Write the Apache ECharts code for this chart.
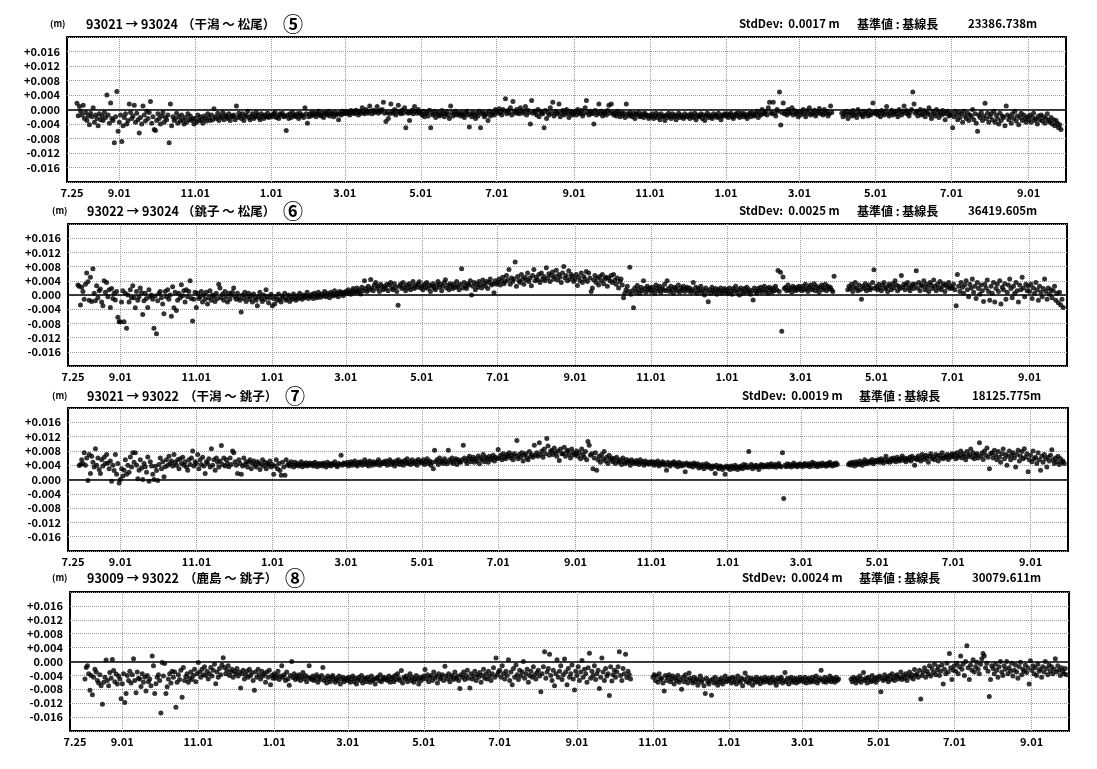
<!DOCTYPE html>
<html><head><meta charset="utf-8">
<script src="https://cdn.jsdelivr.net/npm/echarts@6/dist/echarts.min.js"></script>
<style>html,body{margin:0;padding:0;background:#fff}#c{width:1097px;height:769px}</style>
</head><body><div id="c"></div>
<script>
// Day offsets (from 7.25 of the first year) at the start of each data chunk
const MONTH_START = [0,7,38,68,99,129,160,191,219,250,280,311,341,372,403,433,464,494,525,556,584,615,645,676,706,737,768];
const TICK_DAYS = [0,38,99,160,219,280,341,403,464,525,584,645,706,768];
const TICK_LABELS = ['7.25','9.01','11.01','1.01','3.01','5.01','7.01','9.01','11.01','1.01','3.01','5.01','7.01','9.01'];
const X_MIN = -4, X_MAX = 798;
const Y_MIN = -0.020, Y_MAX = 0.020, Y_STEP = 0.004;

const PAIRS = ['93021 → 93024','93022 → 93024','93021 → 93022','93009 → 93022'];
const STATIONS = ['（干潟 ～ 松尾）','（銚子 ～ 松尾）','（干潟 ～ 銚子）','（鹿島 ～ 銚子）'];
const NUMBERS = ['⑤','⑥','⑦','⑧'];
const STDDEV = ['0.0017','0.0025','0.0019','0.0024'];
const BASELINE = ['23386.738','36419.605','18125.775','30079.611'];

// daily residuals in 0.1 mm, one chunk per month
const P5 = [
[null,null,null,null,17,-17,8],
[-5,-15,12,-25,-8,-30,-18,-42,-10,-20,5,-35,-15,-25,-45,-12,-28,-18,-30,-8,-22,40,-15,-38,18,-25,-30,-92,-20,50,-60],
[-35,-15,-88,-45,-22,-12,-40,-30,15,-8,-25,-18,12,-35,-10,-28,-65,-22,-40,10,-15,-32,-5,-25,-8,22,-38,-20,-55,-58],
[-30,-12,-25,-40,-18,-8,-35,-22,-28,-15,-92,15,-45,-20,-30,-25,-10,-38,-20,-32,-15,-28,-40,-22,-35,-12,-28,-18,-30,-25,-40],
[-25,-35,-15,-30,-20,-28,-38,-18,-25,-32,-12,-22,-30,-15,-28,2,-20,-25,-10,-30,-18,-22,-8,-28,-15,-20,-25,-12,-30,-18],
[-20,-15,-28,10,-22,-10,-18,-25,-12,-30,-20,-15,-5,-22,-28,-18,-12,-25,-20,-8,-15,-22,-28,-12,-18,-25,-15,-20,-10,-22,-18],
[-15,-20,-12,-8,-22,-18,-25,-12,-15,-10,-20,-18,-58,-15,-25,-12,-22,-8,-18,-15,-20,-12,-25,-10,-18,-15,-22,5,-12,-38,-20],
[-12,-18,-8,-15,-10,-20,-12,-5,-15,-18,-10,-22,-8,-12,-15,-5,-18,-10,-12,-20,-8,-15,-12,-28,-10,-15,-5,-12],
[-10,-5,-12,-8,-15,-3,-10,-6,-12,-2,-8,-15,-5,-10,5,-8,-12,0,-6,-10,10,-4,-12,-2,-8,-5,8,-10,-3,-6,0],
[20,-10,-33,-8,-25,-12,15,-6,-10,0,-15,-5,12,-8,-12,-2,-10,5,-50,-6,-10,-30,-8,-2,-12,8,-5,-10,0,-8],
[-10,-15,-5,-20,-12,-8,-18,-2,-50,-10,-15,-5,-22,-12,-8,-18,-15,-3,-10,-20,-12,-6,-15,-25,10,-8,-18,-12,-5,-15,-10],
[-12,-18,-8,-15,-22,-10,-5,-15,-48,-12,-20,-8,-15,-25,-10,-18,-5,-50,-12,-8,-20,-15,-10,-30,-5,-18,-12,-8,-15,0],
[-5,-10,2,-8,-15,0,-5,30,-12,-3,-8,5,-15,22,-5,-10,0,-8,-12,5,-3,-10,-5,8,-15,-2,-8,-40,25,-10,-5],
[-8,-15,0,-20,-5,-10,-12,-50,-3,-25,-8,-15,5,-10,20,-18,-5,-12,-8,15,-20,-10,-3,-15,-8,0,-12,-22,-5,-10,-15],
[-10,-5,-15,0,-8,-12,-3,-18,-10,5,25,-8,-15,-5,-12,-10,-40,-3,-15,-8,15,-12,-5,-18,-10,-8,-15,-3,12,-10],
[15,-8,-15,-10,-18,-5,-12,-20,-8,-15,-10,-22,15,-12,-18,-8,-15,-20,-10,-25,-12,-15,-8,-20,-18,-12,-22,-10,-15,-18,-25],
[-15,-20,-12,-25,-18,-10,-22,-15,-28,-12,-20,-18,-30,-15,-22,-10,-18,-25,-12,-20,-15,-28,-18,-10,-22,-15,-20,-25,-12,-18],
[-20,-15,-25,-12,-18,-22,-10,-28,-15,-20,-18,-12,-25,-15,-30,-18,-10,-22,-15,-20,-25,-12,-18,-15,-22,-10,-20,-28,-15,-18,-12],
[-18,-12,-22,-15,-10,-20,-25,-15,-12,-18,-8,-22,-15,-10,-20,-12,-18,-25,-15,-10,-20,-8,-15,-18,-12,-5,-22,-10,-15,0,-12],
[-10,-5,-15,5,20,-8,-12,20,-10,-18,0,-5,48,-43,-8,18,-12,-5,-15,0,-10,-8,5,-15,-3,-12,-8,-20],
[-5,-15,-8,0,-12,-20,-3,-10,5,-15,-8,-12,-2,-18,-10,-5,3,-12,-8,-15,0,-10,-5,-18,-12,10,-8,null,null,null,null],
[null,null,null,-10,-20,-8,-15,-5,-25,-12,-8,-18,-3,-15,-10,-22,0,-12,-8,-15,-20,-5,-12,-10,-18,-3,-15,-10,18,-8],
[-12,-5,-15,-8,-20,-3,-10,-15,-5,8,-12,-18,-8,-2,-15,-10,-5,-12,-20,0,-8,-15,-5,10,-10,-3,-12,-18,-8,0,48],
[15,-10,-5,-18,-8,0,-15,-12,-3,-20,-8,-10,5,-15,-25,-5,-12,-18,0,-10,-22,-8,-15,-3,-12,-28,-10,-5,-18,-15],
[-10,-50,-20,-5,-15,-28,-8,-22,-12,-35,-5,-18,-25,-10,-30,-15,-20,0,-28,-12,-38,-60,-15,-22,-8,-30,-18,17,-25,-10,-35],
[-20,-12,-28,-5,-35,-15,-25,-40,-10,-30,-18,-22,-45,10,-15,-28,-20,-38,-12,-25,-5,-32,-18,-42,-22,-10,-30,-15,-25,-35,-20],
[-28,-15,-35,-22,-10,-30,-25,-40,-18,-28,-15,-32,-20,-38,-25,-12,-30,-35,-22,-40,-28,-45,-30,-38,-50,-42,-55]
];

const P6 = [
[null,null,null,null,28,25,-28],
[22,10,-12,30,62,37,-15,50,-18,74,5,-16,26,-8,12,17,-20,-30,40,8,35,-5,15,-35,18,-10,5,-14,10,-63,-75],
[-75,-20,12,-75,5,-94,0,-20,15,-8,26,-8,-36,10,-15,-5,20,7,-55,-16,5,-10,-35,15,-5,0,-12,-94,-3,-109],
[-16,4,10,-8,-25,-53,10,-5,15,-12,0,-60,23,-36,8,-44,-15,5,-8,29,-2,12,-20,15,-5,10,40,-10,-73,-12,8],
[-35,5,-10,-5,10,-20,0,-12,8,-25,-8,12,-15,0,-5,-18,5,-10,30,20,-8,2,-15,10,-5,-20,5,-12,0,8],
[20,-5,-12,5,-8,-15,-48,0,-10,8,-18,-5,5,-12,-2,-20,3,-8,-15,-30,-5,8,-10,-18,0,-12,15,-5,-22,-8,2],
[-30,-10,-25,-5,-15,3,-12,-20,-3,-8,5,-15,-10,0,-18,-5,-12,3,-8,-15,-2,-10,5,-6,-12,0,-8,-3,8,-10,-2],
[-5,2,-10,5,-3,-8,8,0,-6,3,-2,10,-5,5,0,-8,8,2,-3,12,0,5,-5,10,3,8,-2,6],
[10,5,15,8,2,12,18,6,10,20,8,14,3,22,12,40,18,10,25,15,44,20,12,28,35,18,25,10,30,22,15],
[25,18,30,12,28,35,20,15,32,22,10,-29,25,30,18,35,22,12,28,20,32,15,25,38,18,28,22,30,37,20],
[25,15,30,22,35,18,28,10,25,32,20,15,28,38,22,30,12,25,35,43,20,28,15,32,25,18,30,22,38,25,15],
[30,74,20,35,25,18,32,28,40,0,25,35,15,30,22,38,28,20,42,32,25,38,18,35,45,28,32,6,40,30],
[35,45,28,40,50,32,38,55,42,72,30,48,38,45,93,25,52,40,35,58,45,30,50,42,62,38,48,26,55,72,40],
[50,42,58,35,62,45,52,40,77,48,60,38,55,65,45,52,70,42,58,50,35,62,80,48,55,40,68,45,58,52,38],
[45,58,27,50,40,62,35,52,45,66,38,62,48,10,20,42,55,35,48,28,52,40,58,32,45,50,25,48,40,55],
[35,58,42,30,48,20,38,45,28,-8,5,15,25,10,78,2,12,-36,20,8,27,15,5,22,12,40,18,8,25,15,20],
[10,22,15,5,28,18,12,25,8,20,15,30,12,40,18,10,25,15,5,22,18,12,28,8,20,15,25,10,18,22],
[12,20,8,15,35,10,22,5,18,12,25,8,15,0,20,10,-19,15,5,22,12,8,18,2,15,10,20,5,12,18,8],
[15,5,20,10,2,18,12,25,8,15,0,20,12,5,18,10,22,8,15,2,12,-14,20,10,5,18,12,22,8,15,25],
[10,18,5,22,15,8,20,12,25,15,69,10,64,-102,51,18,22,12,28,15,20,8,25,18,12,22,15,25],
[20,12,25,15,30,18,10,22,28,15,20,32,12,25,18,8,22,28,15,20,30,12,25,18,22,15,10,53,null,null,null],
[null,null,null,null,null,null,null,15,25,18,30,10,22,35,20,12,28,15,-12,25,18,32,12,22,28,15,20,35,71,18],
[25,15,30,20,12,28,35,18,22,10,30,25,15,32,20,40,28,12,25,18,55,22,30,15,28,35,20,12,25,30,18],
[30,68,20,35,12,28,25,40,15,30,22,10,35,28,18,42,25,12,30,20,38,15,25,32,10,28,22,35,18,25],
[20,30,15,-30,58,25,10,35,22,5,28,40,15,-5,30,20,45,8,25,-10,35,18,2,28,12,-18,30,20,42,10,-15],
[25,5,35,-20,18,30,10,40,-25,22,15,32,-12,8,28,45,18,-8,25,5,35,12,-20,28,15,50,20,-5,30,12,25],
[10,30,-10,20,5,35,15,-15,25,8,-5,18,45,10,-12,20,2,15,-8,12,25,-15,5,-22,8,-28,-12,-35]
];

const P7 = [
[null,null,null,null,null,39,42],
[55,45,75,40,60,-3,70,17,65,48,35,86,40,60,28,17,55,38,62,45,70,46,30,52,-5,40,25,70,15,45,-10],
[0,30,10,26,55,15,40,20,63,35,75,48,75,40,2,26,55,32,0,45,36,20,63,-5,50,38,15,0,37,25],
[-3,42,60,30,50,8,36,55,40,65,45,52,38,70,48,40,55,30,58,45,62,40,50,35,26,55,42,60,80,38,50],
[45,70,30,55,42,62,38,17,50,45,58,35,86,40,55,26,60,48,35,52,95,42,60,38,55,45,36,60,42,80],
[75,50,40,17,55,45,15,38,60,42,50,35,48,55,30,45,52,40,35,50,45,28,42,55,38,48,30,45,40,52,35],
[42,15,38,55,30,45,25,12,48,35,12,55,40,45,38,50,42,35,48,40,45,38,42,50,36,44,40,47,38,43,46],
[40,45,38,48,42,36,45,40,44,38,46,42,35,48,40,44,38,45,42,50,40,36,45,42,68,40,46,44],
[42,48,38,45,50,40,46,52,42,38,48,44,50,40,46,55,42,48,38,52,45,40,50,46,42,48,55,40,47,44,50],
[45,52,40,48,55,42,50,46,38,52,45,55,42,48,50,40,53,46,58,44,50,42,55,48,45,52,40,56,48,50],
[46,55,42,50,58,45,52,40,48,30,82,50,55,42,60,48,52,45,58,50,44,82,55,48,60,45,52,58,42,55,50],
[48,55,96,60,52,45,58,65,50,55,62,48,58,52,66,44,60,55,70,50,62,58,48,65,55,60,68,52,62,58],
[84,60,68,55,72,62,58,70,65,75,60,68,55,72,65,109,58,70,62,75,52,68,72,60,55,78,65,70,62,96,68],
[75,65,103,70,80,62,85,72,115,94,68,78,82,70,88,75,65,80,53,85,72,72,90,65,78,82,70,60,85,75,68],
[72,80,65,75,58,85,70,62,78,55,106,96,68,72,30,60,75,26,55,65,48,70,58,78,52,62,45,68,55,60],
[50,58,45,62,52,48,55,42,60,50,45,56,48,52,40,55,47,50,44,53,48,42,55,46,50,40,52,45,48,43,50],
[45,50,40,48,43,52,38,46,42,50,45,40,26,48,42,38,46,44,50,40,45,36,48,42,38,45,40,22,46,42],
[38,44,40,35,46,42,38,44,32,40,36,42,30,38,44,34,40,36,30,38,35,17,40,34,30,38,36,28,34,15,38],
[32,36,28,38,34,30,40,35,28,36,32,38,30,42,35,40,33,78,36,42,30,38,34,40,36,28,38,42,35,40,36],
[38,42,35,40,44,36,38,42,34,40,45,38,36,75,-53,40,36,44,38,42,35,40,46,38,42,36,40,44],
[40,36,42,45,38,40,44,36,42,48,38,45,40,36,44,42,38,46,40,43,37,45,40,48,42,38,44,40,46,42,null],
[null,null,null,null,null,null,null,42,46,40,48,44,38,50,45,42,52,46,40,48,55,44,50,46,52,48,56,44,50,54],
[50,55,48,58,52,46,56,65,50,54,48,58,52,60,55,50,62,56,52,58,66,54,60,50,58,55,62,52,65,58,40],
[60,55,66,58,52,70,62,56,68,60,48,65,72,58,62,55,70,64,52,68,60,75,58,65,62,70,56,68,62,72],
[65,70,58,75,62,68,80,60,72,66,55,78,64,70,85,62,75,58,68,72,60,103,66,74,56,80,68,88,62,30,72],
[75,60,82,68,55,78,62,48,72,85,58,70,40,65,80,55,68,75,60,35,70,82,52,65,78,58,86,62,72,22,55],
[68,50,80,58,62,45,75,55,26,65,48,70,58,35,62,52,68,83,55,45,60,50,65,42,58,48,52,45]
];

const P8 = [
[],
[null,-50,-17,-12,-35,-83,-40,-96,-45,-22,-30,-55,-62,-38,-70,-123,-60,-45,4,-55,-70,-32,-48,6,-26,-58,-36,-65,-42,-50,-107],
[-64,-35,-118,-92,-40,-55,-28,-62,-38,8,-55,-90,-30,-48,-50,-72,-35,-60,-45,-85,-40,-58,-50,-70,16,-12,-92,-64,-45,-38],
[-55,-148,-3,-42,-6,-92,-73,-50,-35,-62,-28,-45,-30,-132,-60,-38,-52,-25,-103,-17,-55,-43,-35,-60,-48,-30,-52,-40,-22,-58,-35],
[-3,-30,-45,-22,-38,-15,-40,-28,-50,-35,-17,-42,-25,-8,-64,-30,-45,-20,-38,-10,11,-17,-35,-25,-12,-40,-30,-22,-45,-28],
[-35,-20,-42,-30,-76,-35,-25,-50,-38,-28,-45,-22,-40,-32,-55,-83,-30,-45,-22,-38,-50,-28,-42,-35,-60,-30,-45,-25,-67,-40,-48],
[-35,-48,-40,-28,-52,-42,-12,-45,-38,-55,-30,-50,-68,-40,0,-46,-35,-52,-42,-48,-38,-55,-44,-32,-50,-40,-58,-45,-12,-48,-52],
[-42,-55,-48,-38,-60,-45,-52,-40,-17,-55,-48,-62,-42,-50,-58,-45,-40,-52,-60,-48,-55,-42,-65,-50,-45,-58,-52,-48],
[-55,-45,-60,-50,-42,-58,-48,-65,-52,-45,-55,-40,-62,-50,-48,-58,-45,-52,-60,-42,-55,-50,-65,-48,-45,-55,-38,-58,-50,-45,-52],
[-48,-55,-42,-60,-50,-45,-58,-40,-52,-35,-48,-55,-26,-62,-45,-50,-42,-58,-48,-35,-55,-45,-60,-50,-40,-52,-65,-45,-55,-48],
[-42,-23,-50,-38,-58,-45,-40,-55,-30,-48,-42,-62,-35,-50,-45,-38,-55,-14,-42,-50,-35,-58,-45,-40,-52,-30,-48,-42,-55,-78,-38],
[-45,-30,-52,-40,-25,-48,-76,-35,-50,-42,-28,-55,-38,-45,-32,-60,-40,-22,-48,-35,-50,-28,-42,-55,-35,-18,-45,10,-38,-30],
[-25,-45,-12,-35,-50,-28,-40,5,-55,-30,-67,-20,-45,-10,-38,-52,-25,-42,-30,0,-48,-35,-22,-60,-40,-28,-45,-15,-38,-50,-32],
[-25,-42,-87,-35,-15,28,-48,-30,-20,21,-40,-55,-25,-70,-35,5,-45,-28,-12,-52,-38,7,-30,-67,-20,-45,-35,-10,-50,-82,-28],
[-40,-15,-55,-30,3,-45,-22,-35,-60,-18,24,-48,-28,-40,-12,-52,-35,-25,-78,-45,10,-30,-55,-20,-42,-35,-98,-15,-56,-38],
[-25,-45,-30,-15,28,-40,-55,-20,-35,21,-46,-28,-38,-50],
[-45,-38,-55,-42,-60,-35,-50,-48,-62,-85,-40,-55,-45,-38,-58,-50,-42,-65,-48,-55,-40,-60,-52,-80,-45,-58,-38,-50,-62,-33],
[-48,-55,-62,-45,-58,-50,-68,-55,-42,-60,-52,-70,-92,-48,-58,-65,-55,-97,-50,-62,-45,-58,-68,-52,-60,-48,-65,-55,-42,-58,-50],
[-55,-48,-62,-45,-58,-50,-65,-42,-55,-60,-48,-70,-52,-33,-58,-45,-62,-55,-48,-68,-52,-60,-45,-58,-50,-64,-48,-55,-60,-45,-52],
[-58,-48,-62,-52,-45,-60,-55,-68,-48,-58,-50,-45,-62,-55,-32,-58,-48,-65,-52,-45,-60,-55,-48,-62,-50,-58,-45,-55],
[-50,-58,-45,-62,-52,-48,-60,-55,-45,-58,-50,-42,-62,-55,-48,-25,-52,-58,-45,-60,-50,-55,-42,-58,-48,-52,-60,-45,-55,-50,null],
[null,null,null,null,null,null,null,null,-50,-58,-45,-52,-62,-48,-55,-42,-60,-50,-32,-55,-48,-62,-45,-52,-58,-40,-55,-48,-60,-45],
[-52,-42,-87,-48,-55,-38,-50,-45,-58,-40,-52,-35,-48,-55,-42,-38,-50,-45,-30,-52,-40,-48,-35,-55,-42,-30,-45,-38,-50,-23,-40],
[-35,-45,-25,-108,-40,-30,-18,-45,-28,-35,-12,-42,-20,-32,-8,-38,-25,-15,-40,-28,-10,-65,-22,-35,-5,-30,23,-18,-52,-25],
[-12,-28,-5,-35,-15,16,-22,-8,-40,0,45,-18,-52,-10,-25,5,-30,-15,-2,-22,-35,-8,8,23,16,-18,-5,-28,-101,-52,-12],
[-20,-35,-8,-25,-45,-15,0,-30,-40,-12,-22,0,-35,-18,-28,-5,-42,-25,-10,-30,-48,-15,-2,-38,-22,-28,-10,-32,-18,-65,2],
[-25,-12,-35,-18,-40,-8,-28,-22,-45,-15,-30,0,-20,-38,-10,-28,-15,-35,-22,8,-30,-12,-25,-40,-18,-28,-35,-20,-38]
];

const PANELS = [P5, P6, P7, P8];

// layout (pixels)
const GRIDS = [
  {left:67, top:37, width:999, height:145},
  {left:68, top:224, width:999, height:142},
  {left:68, top:408, width:1000, height:143},
  {left:70, top:592, width:999, height:139}
];
const TITLE_Y = [24, 211, 396, 578];

const FONT = '"Noto Sans CJK JP", "DejaVu Sans", sans-serif';

const cats = [];
for (let d = X_MIN; d <= X_MAX; d++) cats.push(String(d));
const tickIdx = new Map();
TICK_DAYS.forEach((d, i) => tickIdx.set(d - X_MIN, TICK_LABELS[i]));

function build(chunks) {
  const out = [];
  chunks.forEach((arr, k) => arr.forEach((v, j) => {
    if (v !== null && v !== undefined) out.push([MONTH_START[k] + j - X_MIN, v / 10000]);
  }));
  return out;
}

function yFmt(v) {
  if (Math.abs(v) > 0.017) return '';
  if (Math.abs(v) < 1e-9) return '0.000';
  return (v > 0 ? '+' : '') + v.toFixed(3);
}

const grid = [], xAxis = [], yAxis = [], series = [], graphic = [];
PANELS.forEach((p, i) => {
  grid.push(Object.assign({show:true, borderColor:'#000', borderWidth:2, backgroundColor:'#fff'}, GRIDS[i]));
  xAxis.push({
    type:'category', gridIndex:i, data:cats, boundaryGap:false,
    axisLine:{show:false}, axisTick:{show:false},
    axisLabel:{
      interval:(idx) => tickIdx.has(idx),
      formatter:(val, idx) => tickIdx.get(idx) || '',
      color:'#000', fontFamily:FONT, fontWeight:'bold', fontSize:11, margin:5
    },
    splitLine:{show:true, interval:(idx) => tickIdx.has(idx) && idx !== 0 - X_MIN, lineStyle:{color:'#999', type:'dotted', width:1}}
  });
  yAxis.push({
    type:'value', gridIndex:i, min:Y_MIN, max:Y_MAX, interval:Y_STEP,
    axisLine:{show:false}, axisTick:{show:false},
    axisLabel:{formatter:yFmt, color:'#000', fontFamily:FONT, fontWeight:'bold', fontSize:11, margin:7},
    splitLine:{show:true, lineStyle:{color:'#999', type:'dotted', width:1}}
  });
  series.push({
    type:'scatter', xAxisIndex:i, yAxisIndex:i, data:build(p),
    symbol:'circle', symbolSize:5, itemStyle:{color:'#000'},
    silent:true, animation:false,
    markLine:{silent:true, symbol:'none', label:{show:false}, animation:false,
      lineStyle:{color:'#000', width:1.6, type:'solid'}, data:[{yAxis:0}]}
  });
  const y = TITLE_Y[i];
  const txt = (x, text, size, weight) => ({type:'text', x:x, y:y, silent:true,
    style:{text:text, fill:'#000', font:(weight||'bold') + ' ' + size + 'px ' + FONT, verticalAlign:'middle'}});
  graphic.push(txt(50 + (i>0?2:0), '(m)', 9));
  graphic.push(txt(86 + (i>0?1:0), PAIRS[i], 12.5));
  graphic.push(txt(182 + (i>1?2:0), STATIONS[i], 12.5));
  graphic.push(txt(283 + (i>1?2:0), NUMBERS[i], 20));
  graphic.push(txt(739 + (i>1?3:0), 'StdDev:  ' + STDDEV[i] + ' m', 11.5));
  graphic.push(txt(857 + (i>1?2:0), '基準値 : 基線長', 12));
  graphic.push(txt(968 + (i>1?4:0), BASELINE[i] + 'm', 11.5));
});

const chart = echarts.init(document.getElementById('c'), null, {renderer:'canvas'});
chart.setOption({backgroundColor:'#fff', animation:false, grid, xAxis, yAxis, series, graphic});
</script>
</body></html>
